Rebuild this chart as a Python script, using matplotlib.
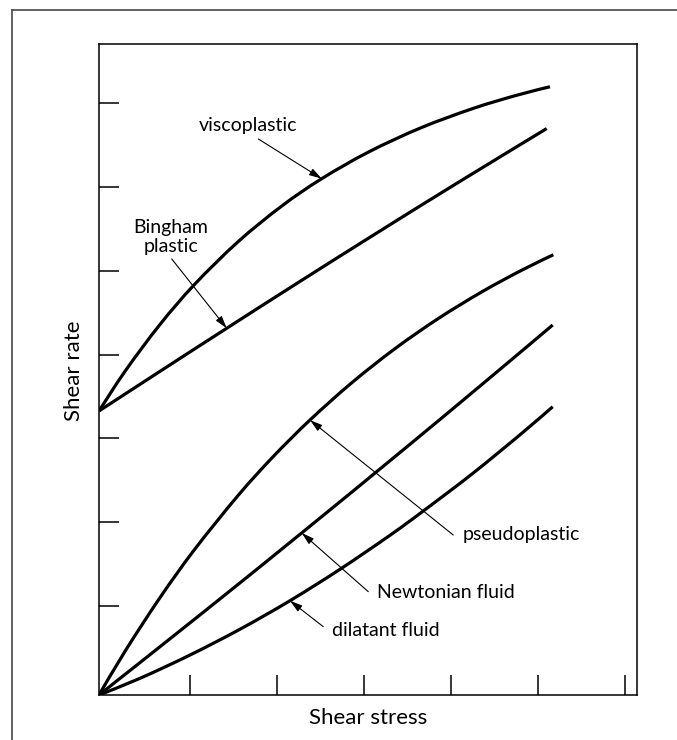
import matplotlib
matplotlib.use("Agg")
import matplotlib.pyplot as plt
from matplotlib.lines import Line2D
from matplotlib.path import Path
from matplotlib.patches import PathPatch

plt.rcParams['font.family'] = ['Lato', 'DejaVu Sans']

# ---- data (axis units) ----
visco_x = [0.0, 0.3, 0.7, 1.1, 1.6, 2.1, 2.56, 3.1, 3.7, 4.3, 4.8, 5.184]
visco_y = [3.389, 3.864, 4.420, 4.901, 5.410, 5.834, 6.161, 6.480, 6.768, 6.999, 7.156, 7.258]

bingham_x = [0.0, 0.701, 1.468, 2.310, 3.230, 4.149, 5.146]
bingham_y = [3.389, 3.862, 4.376, 4.935, 5.537, 6.129, 6.759]

pseudo_x = [0.0, 0.3, 0.7, 1.1, 1.6, 2.0, 2.425, 2.9, 3.4, 3.9, 4.4, 4.85, 5.222]
pseudo_y = [0.0, 0.523, 1.160, 1.738, 2.382, 2.842, 3.281, 3.721, 4.131, 4.492, 4.810, 5.064, 5.253]

newton_x = [0.0, 1.2, 2.348, 3.5, 4.4, 5.215]
newton_y = [0.0, 0.988, 1.949, 2.928, 3.704, 4.415]

dilat_x = [0.0, 0.471, 1.046, 1.621, 2.195, 2.770, 3.345, 3.728, 4.302, 4.877, 5.215]
dilat_y = [0.0, 0.199, 0.477, 0.785, 1.125, 1.500, 1.906, 2.196, 2.649, 3.138, 3.440]

x_ticks = [1.046, 2.046, 3.046, 4.046, 5.046, 6.046]
y_ticks = [1.062, 2.062, 3.062, 4.062, 5.062, 6.062, 7.062]
x_lim = (0.0, 6.184)
y_lim = (0.0, 7.768)

# label text, text position, arrow start, arrow tip
labels = ["viscoplastic", "Bingham\nplastic", "pseudoplastic", "Newtonian fluid", "dilatant fluid"]
label_xy = [(1.709, 6.794), (0.822, 5.463), (4.854, 1.921), (3.987, 1.226), (3.293, 0.767)]
arrow_from = [(1.831, 6.635), (0.836, 5.203), (4.072, 1.909), (3.095, 1.233), (2.578, 0.815)]
arrow_to = [(2.560, 6.161), (1.468, 4.376), (2.425, 3.281), (2.330, 1.934), (2.195, 1.125)]


def smooth_path(xs, ys):
    """Cubic Bezier path passing through every read point (Catmull-Rom tangents)."""
    n = len(xs)
    verts = [(xs[0], ys[0])]
    codes = [Path.MOVETO]
    for i in range(n - 1):
        x0, y0 = (xs[i - 1], ys[i - 1]) if i > 0 else (xs[i], ys[i])
        x1, y1 = xs[i], ys[i]
        x2, y2 = xs[i + 1], ys[i + 1]
        x3, y3 = (xs[i + 2], ys[i + 2]) if i + 2 < n else (x2, y2)
        c1 = (x1 + (x2 - x0) / 6.0, y1 + (y2 - y0) / 6.0)
        c2 = (x2 - (x3 - x1) / 6.0, y2 - (y3 - y1) / 6.0)
        verts += [c1, c2, (x2, y2)]
        codes += [Path.CURVE4] * 3
    return Path(verts, codes)


fig = plt.figure(figsize=(6.77, 7.40), dpi=100)
ax = fig.add_axes([99/677, 1-695/740, 538/677, 651/740])

lw_curve = 2.3
for xs, ys in [(visco_x, visco_y), (bingham_x, bingham_y), (pseudo_x, pseudo_y),
               (newton_x, newton_y), (dilat_x, dilat_y)]:
    ax.add_patch(PathPatch(smooth_path(xs, ys), fill=False, edgecolor='black',
                           lw=lw_curve, capstyle='butt', joinstyle='round'))

ax.set_xlim(*x_lim)
ax.set_ylim(*y_lim)
ax.set_xticks(x_ticks)
ax.set_yticks(y_ticks)
ax.set_xticklabels([])
ax.set_yticklabels([])
ax.tick_params(direction='in', length=14.5, width=1.1, color='black')
for s in ax.spines.values():
    s.set_linewidth(1.1)
    s.set_color('black')

fs = 14
for txt, xy, fr, to in zip(labels, label_xy, arrow_from, arrow_to):
    ax.text(xy[0], xy[1], txt, ha='center', va='center', fontsize=fs, linespacing=1.15)
    ax.annotate('', xy=to, xytext=fr,
                arrowprops=dict(arrowstyle='-|>,head_length=0.75,head_width=0.22',
                                lw=0.8, color='black', shrinkA=0, shrinkB=0))

fig.text(368/677, 1-718/740, "Shear stress", ha='center', va='center', fontsize=16)
fig.text(74/677, 1-371/740, "Shear rate", ha='center', va='center', fontsize=16, rotation=90)

# outer frame (top and left edges visible)
fig.add_artist(Line2D([12/677, 1.0], [1-10/740, 1-10/740], transform=fig.transFigure,
                      color='#555555', lw=1.3))
fig.add_artist(Line2D([12/677, 12/677], [0.0, 1-10/740], transform=fig.transFigure,
                      color='#555555', lw=1.3))

fig.savefig("out.png", dpi=100)
